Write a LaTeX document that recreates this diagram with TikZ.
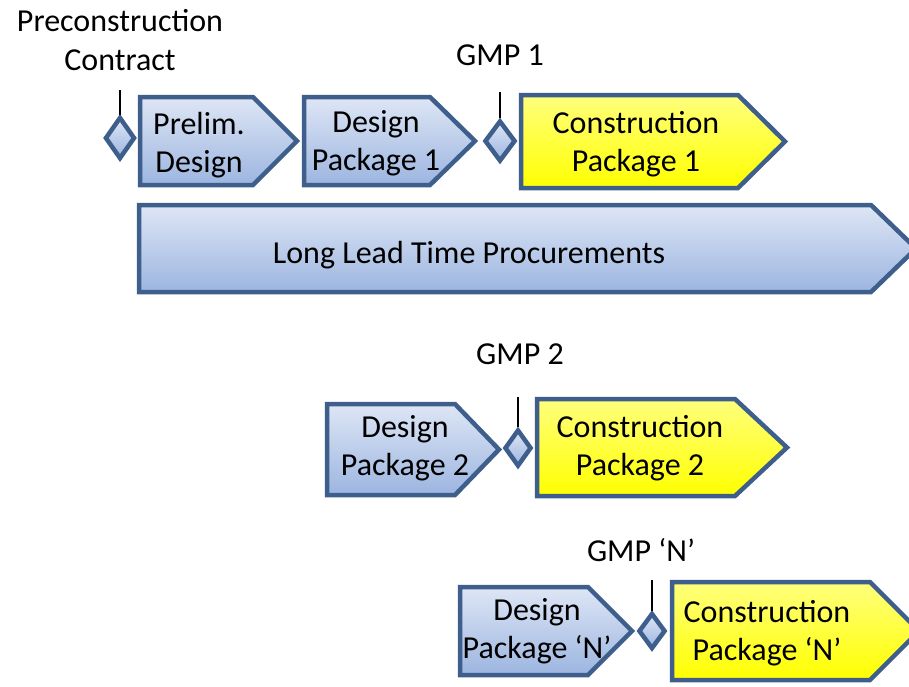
\documentclass[tikz,border=0pt]{standalone}
\usepackage{fontspec}
\setmainfont{Carlito}
\usetikzlibrary{shapes.geometric}

\definecolor{edgeblue}{RGB}{62,94,140}
\definecolor{paleblue}{RGB}{222,230,245}
\definecolor{deepblue}{RGB}{156,181,224}
\definecolor{paleyellow}{RGB}{255,255,125}
\definecolor{deepyellow}{RGB}{255,255,0}

% pentagon arrow: style, left, top, notch x, tip x, bottom
\newcommand\pentabox[6]{%
  \path[#1] (#2,#3) -- (#4,#3) -- (#5,{(#3+#6)/2}) -- (#4,#6) -- (#2,#6) -- cycle;}

\begin{document}
\begin{tikzpicture}[x=1pt,y=-1pt,
  bluefill/.style={top color=paleblue,bottom color=deepblue},
  yellowfill/.style={top color=paleyellow,bottom color=deepyellow},
  outline/.style={draw=edgeblue,line width=4.5pt},
  phase/.style={outline,bluefill},
  build/.style={outline,yellowfill},
  txt/.style={font=\fontsize{32}{38.5}\selectfont,align=center,inner sep=0pt},
  milestone/.style={diamond,draw=edgeblue,line width=4.5pt,bluefill,inner sep=0pt},
  tick/.style={draw=black,line width=2pt}]
\useasboundingbox (0,0) rectangle (909,686);

% first release
\pentabox{phase}{140}{97}{253}{297}{185}
\pentabox{phase}{304}{97}{430}{475}{185}
\pentabox{build}{521}{95}{738}{785}{188}
\pentabox{phase}{139}{205}{871}{916}{292}

% second release
\pentabox{phase}{327}{404}{455}{499}{495}
\pentabox{build}{537}{399}{735}{787}{496}

% release N
\pentabox{phase}{460}{587}{588}{632}{675}
\pentabox{build}{672}{582}{870}{919}{680}

% milestones
\node[milestone,minimum width=30pt,minimum height=42pt] (d0) at (120,138) {};
\node[milestone,minimum width=31pt,minimum height=41pt] (d1) at (500,141) {};
\node[milestone,minimum width=27pt,minimum height=37pt] (d2) at (518,448) {};
\node[milestone,minimum width=27pt,minimum height=36pt] (dn) at (652,631) {};

\coordinate (t0) at (120,90);
\coordinate (t1) at (500,92);
\coordinate (t2) at (518,397);
\coordinate (tn) at (652,580);
\draw[tick] (d0.north) -- (t0);
\draw[tick] (d1.north) -- (t1);
\draw[tick] (d2.north) -- (t2);
\draw[tick] (dn.north) -- (tn);

% labels
\node[txt] (precon) at (120,40) {Preconstruction\\Contract};
\node[txt] (gmp1) at (500,55) {GMP 1};
\node[txt] (gmp2) at (520,354) {GMP 2};
\node[txt] (gmpn) at (641,550) {GMP ‘N’};

\node[txt] (prelim) at (199,145) {Prelim.\\Design};
\node[txt] (dpk1) at (376,143) {Design\\Package 1};
\node[txt] (cpk1) at (636,144) {Construction\\Package 1};
\node[txt] (llp) at (469,255) {Long Lead Time Procurements};
\node[txt] (dpk2) at (405,448) {Design\\Package 2};
\node[txt] (cpk2) at (640,448) {Construction\\Package 2};
\node[txt] (dpkn) at (537,631) {Design\\Package ‘N’};
\node[txt] (cpkn) at (767,633) {Construction\\Package ‘N’};
\end{tikzpicture}
\end{document}
